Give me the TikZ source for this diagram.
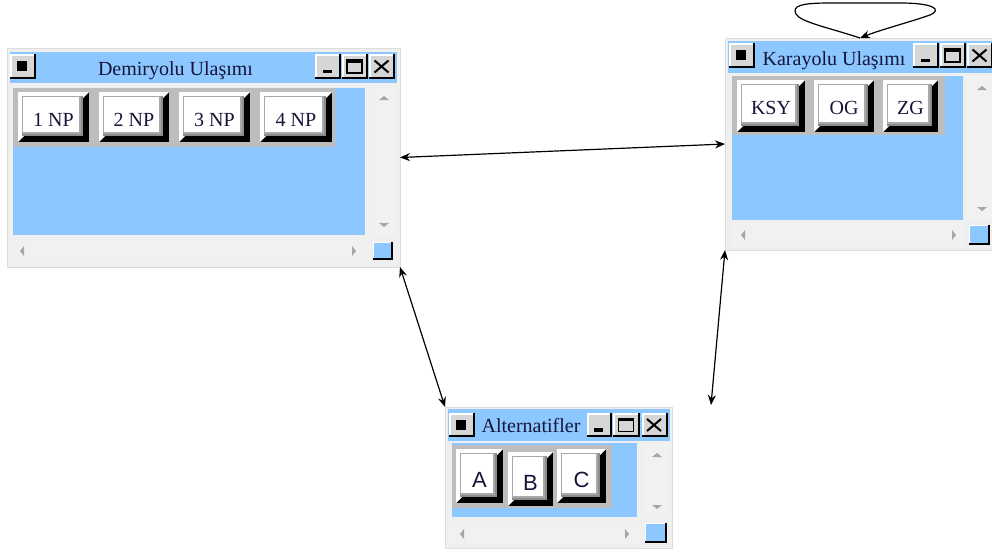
\documentclass[tikz,border=0pt]{standalone}
\usepackage{fontspec}
\setmainfont{Liberation Serif}
\newfontfamily\btnsans{Liberation Sans}
\usetikzlibrary{calc,arrows.meta}

\definecolor{winblue}{HTML}{8DC7FF}
\definecolor{framegray}{HTML}{EFEFEF}
\definecolor{frameedge}{HTML}{DCDCDC}
\definecolor{bargray}{HTML}{BDBDBD}
\definecolor{btnface}{HTML}{D6D6D6}
\definecolor{facegray}{HTML}{A9A9A9}
\definecolor{shadegray}{HTML}{8C8C8C}
\definecolor{scrollgray}{HTML}{F1F1F1}
\definecolor{arrowgray}{HTML}{A6A6A6}
\definecolor{inktext}{HTML}{15153A}

\tikzset{
  winframe/.style={draw=frameedge, fill=framegray, line width=0.6pt,
    inner sep=0pt, outer sep=0pt, rectangle},
  titletext/.style={anchor=base, inner sep=0pt, text=inktext,
    font=\fontsize{20}{24}\selectfont},
  serifbtn/.style={anchor=base, inner sep=0pt, text=inktext,
    font=\fontsize{20}{24}\selectfont},
  sansbtn/.style={anchor=base, inner sep=0pt, text=inktext,
    font=\btnsans\fontsize{22}{26}\selectfont},
  tip/.style={Stealth[length=10pt,width=8pt]},
  conn/.style={line width=1.2pt, {Stealth[length=10pt,width=8pt]}-{Stealth[length=10pt,width=8pt]}},
  loopconn/.style={line width=1.2pt, -{Stealth[length=10pt,width=8pt]}},
}

% raised button of a toolbar: x1 y1 x2 y2, text node name, baseline, text, style
\newcommand\bevelbtn[8]{%
  \fill[black] (#1,#2) rectangle (#3,#4);
  \fill[white] (#1,#2) -- (#3,#2) -- ($(#3,#2)+(-7,7)$) -- ($(#1,#4)+(7,-7)$) -- (#1,#4) -- cycle;
  \fill[shadegray] ($(#1,#2)+(4,4)$) rectangle ($(#3,#4)+(-6.5,-6.5)$);
  \draw[facegray, fill=white, line width=1.2pt] ($(#1,#2)+(4.5,4.5)$) rectangle ($(#3,#4)+(-9,-9)$);
  \node[#8] (#5) at ($(#1,#6)!0.5!(#3,#6)$) {#7};
}

% small caption button: x1 y1 x2 y2
\newcommand\capbtn[4]{%
  \fill[black] (#1,#2) rectangle (#3,#4);
  \fill[white] (#1,#2) rectangle ($(#3,#4)+(-2,-2)$);
  \fill[btnface] ($(#1,#2)+(1.5,1.5)$) rectangle ($(#3,#4)+(-2,-2)$);
}
\newcommand\sysicon[1]{\fill[black, shift={(#1)}] (-5,-5) rectangle (5,5);}
\newcommand\minicon[1]{\fill[black, shift={(#1)}] (-5,3) rectangle (4,6.5);}
\newcommand\maxicon[1]{%
  \draw[black, line width=1.3pt, shift={(#1)}] (-7.5,-6.5) rectangle (7.5,6.5);
  \fill[black, shift={(#1)}] (-8.1,-7.1) rectangle (8.1,-4);}
\newcommand\closeicon[1]{%
  \draw[black, line width=2pt, shift={(#1)}] (-7,-6) -- (7,6) (-7,6) -- (7,-6);}

% scroll arrows
\newcommand\uparr[1]{\fill[arrowgray, shift={(#1)}] (-5,2) -- (5,2) -- (0,-2) -- cycle;}
\newcommand\dnarr[1]{\fill[arrowgray, shift={(#1)}] (-5,-2) -- (5,-2) -- (0,2) -- cycle;}
\newcommand\lfarr[1]{\fill[arrowgray, shift={(#1)}] (2,-5) -- (2,5) -- (-2,0) -- cycle;}
\newcommand\rtarr[1]{\fill[arrowgray, shift={(#1)}] (-2,-5) -- (-2,5) -- (2,0) -- cycle;}

% size grip square: x1 y1 x2 y2
\newcommand\grip[4]{%
  \fill[black] (#1,#2) rectangle (#3,#4);
  \fill[white] (#1,#2) rectangle ($(#3,#4)+(-2,-2)$);
  \fill[winblue] ($(#1,#2)+(1,1)$) rectangle ($(#3,#4)+(-2,-2)$);
}

\begin{document}
\begin{tikzpicture}[x=1pt, y=-1pt]
\useasboundingbox (0,0) rectangle (992,554);
\clip (0,0) rectangle (992,554);

% ---------- Demiryolu window ----------
\node[winframe, minimum width=393pt, minimum height=219pt] (w1) at (203.5,157.5) {};
\fill[winblue] (10,52) rectangle (397,83);
\capbtn{10}{54}{36}{79}\sysicon{22,66}
\capbtn{315}{54}{341}{79}\minicon{327.5,66.5}
\capbtn{342}{54}{368}{79}\maxicon{354.5,66.5}
\capbtn{369}{54}{395}{79}\closeicon{381.5,66.5}
\node[titletext] (t1) at (175.5,75) {Demiryolu Ulaşımı};
\fill[winblue] (13,88) rectangle (365,235);
\fill[bargray] (13,88) rectangle (335,147);
\bevelbtn{18}{92}{89}{142}{b11}{126}{1 NP}{serifbtn}
\bevelbtn{99}{92}{169}{142}{b12}{126}{2 NP}{serifbtn}
\bevelbtn{179}{92}{250}{142}{b13}{126}{3 NP}{serifbtn}
\bevelbtn{260}{92}{332}{142}{b14}{126}{4 NP}{serifbtn}
\fill[scrollgray] (370,88) rectangle (395,237);
\fill[scrollgray] (10,240) rectangle (367,263);
\uparr{384,98}\dnarr{384,225}
\lfarr{22,251}\rtarr{354,251}
\grip{373}{242}{393}{260}

% ---------- Karayolu window ----------
\node[winframe, minimum width=270pt, minimum height=212pt] (w2) at (860,144) {};
\fill[winblue] (728,41) rectangle (995,73);
\capbtn{729}{43}{755}{68}\sysicon{741,55}
\capbtn{913}{43}{939}{68}\minicon{925.5,55.5}
\capbtn{940}{43}{966}{68}\maxicon{952.5,55.5}
\capbtn{967}{43}{993}{68}\closeicon{979.5,55.5}
\node[titletext] (t2) at (834,65) {Karayolu Ulaşımı};
\fill[winblue] (732,76) rectangle (963,220);
\fill[bargray] (732,76) rectangle (945,135);
\bevelbtn{737}{80}{805}{132}{b21}{114}{KSY}{serifbtn}
\bevelbtn{814}{80}{874}{132}{b22}{114}{OG}{serifbtn}
\bevelbtn{883}{80}{938}{132}{b23}{114}{ZG}{serifbtn}
\fill[scrollgray] (967,76) rectangle (993,220);
\fill[scrollgray] (732,223) rectangle (965,247);
\uparr{982,88}\dnarr{982,209}
\lfarr{743,235}\rtarr{954,235}
\grip{969}{225}{990}{245}

% ---------- Alternatifler window ----------
\node[winframe, minimum width=227pt, minimum height=141pt] (w3) at (558.5,477.5) {};
\fill[winblue] (448,409) rectangle (670,441);
\capbtn{449}{413}{475}{437}\sysicon{461,424.5}
\capbtn{587}{413}{612}{437}\minicon{599,425}
\capbtn{613}{413}{640}{437}\maxicon{626,425}
\capbtn{642}{413}{668}{437}\closeicon{654,425}
\node[titletext] (t3) at (531,432) {Alternatifler};
\fill[winblue] (452,443) rectangle (637,517);
\fill[bargray] (452,445) rectangle (612,508);
\bevelbtn{456}{449}{503}{503}{b31}{487}{A}{sansbtn}
\bevelbtn{508}{452}{553}{506}{b32}{490}{B}{sansbtn}
\bevelbtn{557}{449}{606}{503}{b33}{487}{C}{sansbtn}
\fill[scrollgray] (643,443) rectangle (669,518);
\fill[scrollgray] (448,522) rectangle (640,545);
\uparr{657,455}\dnarr{657,507}
\lfarr{462,534}\rtarr{627,534}
\grip{645}{523}{667}{543}

% ---------- connectors ----------
\coordinate (free1) at (711,405);
\draw[conn] (w1.east) -- (w2.west);
\draw[conn] (w1.south east) -- (w3.north west);
\draw[conn] (w2.south west) -- (free1);
\draw[loopconn] (w2.north) .. controls (830,28) and (800,22) .. (796,14)
  .. controls (792,6) and (800,3) .. (830,3) -- (900,3)
  .. controls (935,3) and (942,10) .. (930,15)
  .. controls (910,22) and (880,30) .. (w2.north);
\end{tikzpicture}
\end{document}
